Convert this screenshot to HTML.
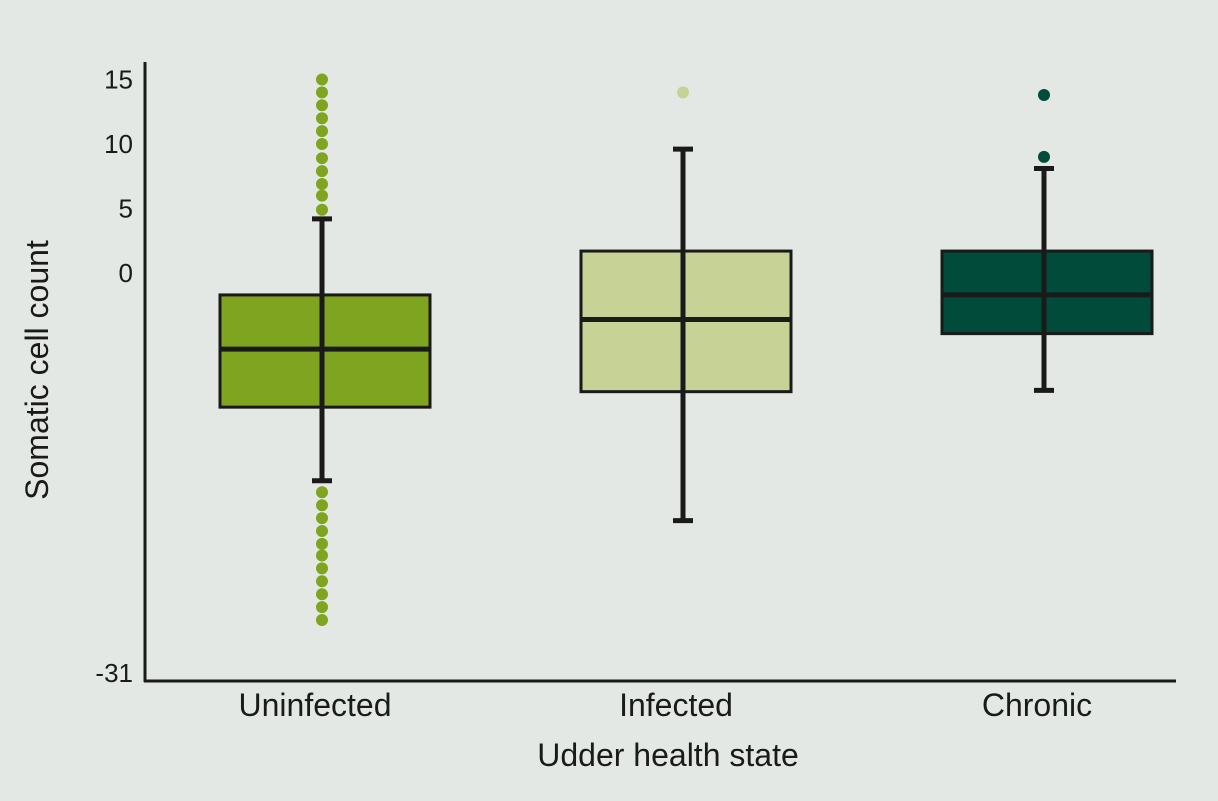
<!DOCTYPE html>
<html><head><meta charset="utf-8"><style>
body{margin:0;background:#e4e8e4;}
svg{display:block;font-family:"Liberation Sans",sans-serif;}
</style></head><body>
<svg id="chart" width="1218" height="801">
<rect width="1218" height="801" fill="#e4e8e4"/>
</svg>
<script>
const categories=["Uninfected","Infected","Chronic"];
const colors=["#7fa41f","#c6d296","#004b3a"];
const q1=[-10.4,-9.2,-4.7];
const q3=[-1.7,1.7,1.7];
const medians=[-5.9,-3.6,-1.7];
const whiskLo=[-16.1,-19.2,-9.1];
const whiskHi=[4.2,9.6,8.1];
const outliers=[
 [15,14,13,12,11,10,8.9,7.9,6.9,6,4.9,-17,-18,-19,-20,-21,-21.9,-22.9,-23.9,-24.9,-25.9,-26.9],
 [14],
 [13.8,9.0]
];
const yTicks=[15,10,5,0,-31];
const NS="http://www.w3.org/2000/svg";
const svg=document.getElementById('chart');
const y=v=>273-v*12.9;
const xc=i=>322+i*361;
function mk(t,a,p){const e=document.createElementNS(NS,t);for(const k in a)e.setAttribute(k,a[k]);(p||svg).appendChild(e);return e;}
// axes
let ax=mk('line',{x1:145,y1:62,x2:145,y2:682,stroke:'#1a1a1a','stroke-width':3});


ax=mk('line',{x1:144,y1:681,x2:1176,y2:681,stroke:'#1a1a1a','stroke-width':3});


yTicks.forEach(v=>{
 const t=mk('text',{x:133,y:y(v)+9,'text-anchor':'end','font-size':26,fill:'#1a1a1a'});
 t.textContent=v;
 
 
});
categories.forEach((c,i)=>{
 const g=mk('g',{});
 
 
 const cx=xc(i);
 mk('rect',{x:cx-102,y:y(q3[i]),width:210,height:y(q1[i])-y(q3[i]),fill:colors[i],stroke:'#1a1a1a','stroke-width':3},g);
 mk('line',{x1:cx,y1:y(whiskHi[i]),x2:cx,y2:y(whiskLo[i]),stroke:'#1a1a1a','stroke-width':5},g);
 mk('line',{x1:cx-102,y1:y(medians[i]),x2:cx+108,y2:y(medians[i]),stroke:'#1a1a1a','stroke-width':5},g);
 mk('line',{x1:cx-10,y1:y(whiskHi[i]),x2:cx+10,y2:y(whiskHi[i]),stroke:'#1a1a1a','stroke-width':5},g);
 mk('line',{x1:cx-10,y1:y(whiskLo[i]),x2:cx+10,y2:y(whiskLo[i]),stroke:'#1a1a1a','stroke-width':5},g);
 outliers[i].forEach(v=>{
  const d=mk('circle',{cx:cx,cy:y(v),r:6,fill:colors[i]},g);
  
  
 });
 const t=mk('text',{x:cx-7,y:716,'text-anchor':'middle','font-size':32,fill:'#1a1a1a'});
 t.textContent=c;
 
 
});
let t=mk('text',{x:668,y:766,'text-anchor':'middle','font-size':32,fill:'#1a1a1a'});
t.textContent='Udder health state';


t=mk('text',{x:0,y:0,'text-anchor':'middle','font-size':32,fill:'#1a1a1a',transform:'translate(48,370) rotate(-90)'});
t.textContent='Somatic cell count';


</script>
</body></html>
